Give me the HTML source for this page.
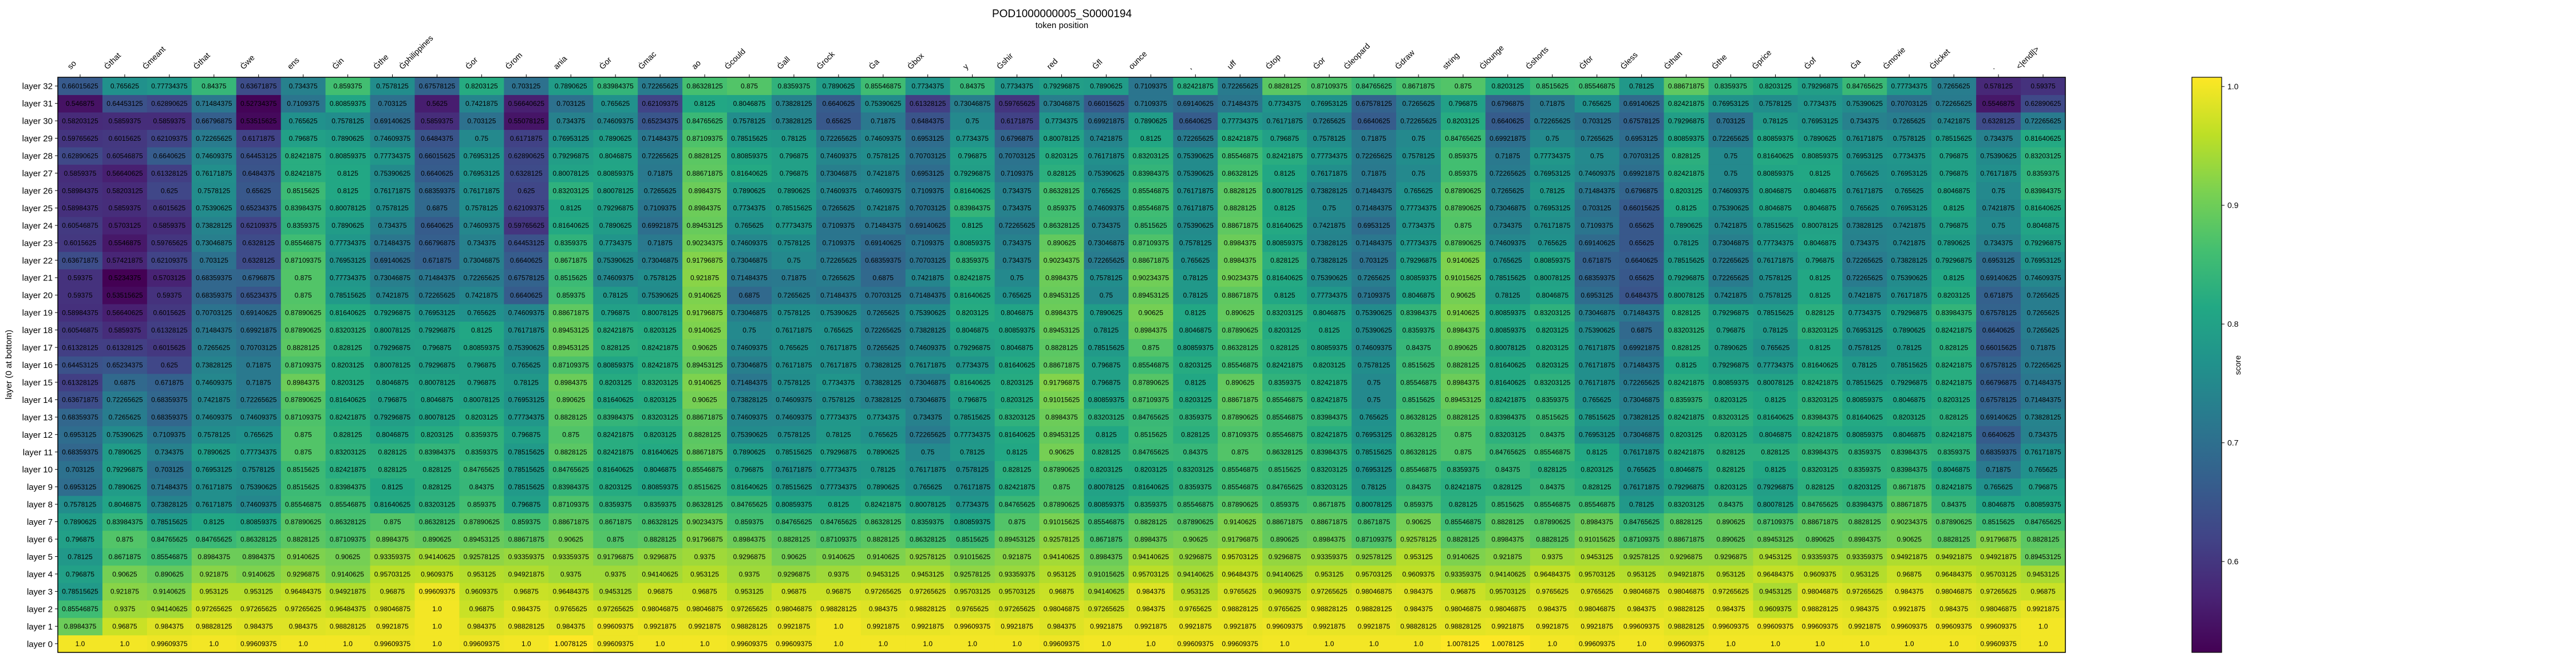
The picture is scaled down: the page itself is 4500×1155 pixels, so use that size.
<!DOCTYPE html>
<html><head><meta charset="utf-8"><title>POD1000000005_S0000194</title>
<style>
html,body{margin:0;padding:0;background:#fff;}
svg{display:block;font-family:"Liberation Sans","DejaVu Sans",sans-serif;}
</style></head>
<body>
<svg id="chart" width="4500" height="1155" viewBox="0 0 4500 1155" xmlns="http://www.w3.org/2000/svg">
<defs>
<linearGradient id="vir" x1="0" y1="1" x2="0" y2="0">
<stop offset="0" stop-color="#440154"/><stop offset="0.1" stop-color="#482475"/><stop offset="0.2" stop-color="#414487"/><stop offset="0.3" stop-color="#355f8d"/><stop offset="0.4" stop-color="#2a788e"/><stop offset="0.5" stop-color="#21918c"/><stop offset="0.6" stop-color="#22a884"/><stop offset="0.7" stop-color="#44bf70"/><stop offset="0.8" stop-color="#7ad151"/><stop offset="0.9" stop-color="#bddf26"/><stop offset="1" stop-color="#fde725"/>
</linearGradient>
</defs>
<text x="1855" y="30" font-size="19" text-anchor="middle">POD1000000005_S0000194</text>
<text x="1855" y="49" font-size="15" text-anchor="middle">token position</text>
<text transform="translate(20,637) rotate(-90)" font-size="15" text-anchor="middle">layer (0 at bottom)</text>
<g id="cells"></g>
<g id="xticks"></g>
<g id="yticks"></g>
<rect x="101" y="135" width="3507" height="1005" fill="none" stroke="#000" stroke-width="1.5"/>
<g>
<rect x="3829" y="135" width="52" height="1005" fill="url(#vir)" stroke="#000" stroke-width="1.2"/>
<g id="cbticks"></g>
<text transform="translate(3914,638) rotate(-90)" font-size="14" text-anchor="middle">score</text>
</g>
</svg>
<script>
const tokens = ["so","Ġthat","Ġmeant","Ġthat","Ġwe","ens","Ġin","Ġthe","Ġphilippines","Ġor","Ġrom","ania","Ġor","Ġmac","ao","Ġcould","Ġall","Ġrock","Ġa","Ġbox","y","Ġshir","red","Ġfl","ounce",",","uff","Ġtop","Ġor","Ġleopard","Ġdraw","string","Ġlounge","Ġshorts","Ġfor","Ġless","Ġthan","Ġthe","Ġprice","Ġof","Ġa","Ġmovie","Ġticket",".","<|endl|>"];
const cbTicks = [0.6, 0.7, 0.8, 0.9, 1.0];
const vmin = 0.5234375, vmax = 1.0078125;

const L32 = [.66015625,.765625,.77734375,.84375,.63671875,.734375,.859375,.7578125,.67578125,.8203125,.703125,.7890625,.83984375,.72265625,.86328125,.875,.8359375,.7890625,.85546875,.7734375,.84375,.7734375,.79296875,.7890625,.7109375,.82421875,.72265625,.8828125,.87109375,.84765625,.8671875,.875,.8203125,.8515625,.85546875,.78125,.88671875,.8359375,.8203125,.79296875,.84765625,.77734375,.7265625,.578125,.59375];
const L31 = [.546875,.64453125,.62890625,.71484375,.52734375,.7109375,.80859375,.703125,.5625,.7421875,.56640625,.703125,.765625,.62109375,.8125,.8046875,.73828125,.6640625,.75390625,.61328125,.73046875,.59765625,.73046875,.66015625,.7109375,.69140625,.71484375,.7734375,.76953125,.67578125,.7265625,.796875,.6796875,.71875,.765625,.69140625,.82421875,.76953125,.7578125,.7734375,.75390625,.70703125,.72265625,.5546875,.62890625];
const L30 = [.58203125,.5859375,.5859375,.66796875,.53515625,.765625,.7578125,.69140625,.5859375,.703125,.55078125,.734375,.74609375,.65234375,.84765625,.7578125,.73828125,.65625,.71875,.6484375,.75,.6171875,.7734375,.69921875,.7890625,.6640625,.77734375,.76171875,.7265625,.6640625,.72265625,.8203125,.6640625,.72265625,.703125,.67578125,.79296875,.703125,.78125,.76953125,.734375,.7265625,.7421875,.6328125,.72265625];
const L29 = [.59765625,.6015625,.62109375,.72265625,.6171875,.796875,.7890625,.74609375,.6484375,.75,.6171875,.76953125,.7890625,.71484375,.87109375,.78515625,.78125,.72265625,.74609375,.6953125,.7734375,.6796875,.80078125,.7421875,.8125,.72265625,.82421875,.796875,.7578125,.71875,.75,.84765625,.69921875,.75,.7265625,.6953125,.80859375,.72265625,.80859375,.7890625,.76171875,.7578125,.78515625,.734375,.81640625];
const L28 = [.62890625,.60546875,.6640625,.74609375,.64453125,.82421875,.80859375,.77734375,.66015625,.76953125,.62890625,.79296875,.8046875,.72265625,.8828125,.80859375,.796875,.74609375,.7578125,.70703125,.796875,.70703125,.8203125,.76171875,.83203125,.75390625,.85546875,.82421875,.77734375,.72265625,.7578125,.859375,.71875,.77734375,.75,.70703125,.828125,.75,.81640625,.80859375,.76953125,.7734375,.796875,.75390625,.83203125];
const L27 = [.5859375,.56640625,.61328125,.76171875,.6484375,.82421875,.8125,.75390625,.6640625,.76953125,.6328125,.80078125,.80859375,.71875,.88671875,.81640625,.796875,.73046875,.7421875,.6953125,.79296875,.7109375,.828125,.75390625,.83984375,.75390625,.86328125,.8125,.76171875,.71875,.75,.859375,.72265625,.76953125,.74609375,.69921875,.82421875,.75,.80859375,.8125,.765625,.76953125,.796875,.76171875,.8359375];
const L26 = [.58984375,.58203125,.625,.7578125,.65625,.8515625,.8125,.76171875,.68359375,.76171875,.625,.83203125,.80078125,.7265625,.8984375,.7890625,.7890625,.74609375,.74609375,.7109375,.81640625,.734375,.86328125,.765625,.85546875,.76171875,.8828125,.80078125,.73828125,.71484375,.765625,.87890625,.7265625,.78125,.71484375,.6796875,.8203125,.74609375,.8046875,.8046875,.76171875,.765625,.8046875,.75,.83984375];
const L25 = [.58984375,.5859375,.6015625,.75390625,.65234375,.83984375,.80078125,.7578125,.6875,.7578125,.62109375,.8125,.79296875,.7109375,.8984375,.7734375,.78515625,.7265625,.7421875,.70703125,.83984375,.734375,.859375,.74609375,.85546875,.76171875,.8828125,.8125,.75,.71484375,.77734375,.87890625,.73046875,.76953125,.703125,.66015625,.8125,.75390625,.8046875,.8046875,.765625,.76953125,.8125,.7421875,.81640625];
const L24 = [.60546875,.5703125,.5859375,.73828125,.62109375,.8359375,.7890625,.734375,.6640625,.74609375,.59765625,.81640625,.7890625,.69921875,.89453125,.765625,.77734375,.7109375,.71484375,.69140625,.8125,.72265625,.86328125,.734375,.8515625,.75390625,.88671875,.81640625,.7421875,.6953125,.7734375,.875,.734375,.76171875,.7109375,.65625,.7890625,.7421875,.78515625,.80078125,.73828125,.7421875,.796875,.75,.8046875];
const L23 = [.6015625,.5546875,.59765625,.73046875,.6328125,.85546875,.77734375,.71484375,.66796875,.734375,.64453125,.8359375,.7734375,.71875,.90234375,.74609375,.7578125,.7109375,.69140625,.7109375,.80859375,.734375,.890625,.73046875,.87109375,.7578125,.8984375,.80859375,.73828125,.71484375,.77734375,.87890625,.74609375,.765625,.69140625,.65625,.78125,.73046875,.77734375,.8046875,.734375,.7421875,.7890625,.734375,.79296875];
const L22 = [.63671875,.57421875,.62109375,.703125,.6328125,.87109375,.76953125,.69140625,.671875,.73046875,.6640625,.8671875,.75390625,.73046875,.91796875,.73046875,.75,.72265625,.68359375,.70703125,.8359375,.734375,.90234375,.72265625,.88671875,.765625,.8984375,.828125,.73828125,.703125,.79296875,.9140625,.765625,.80859375,.671875,.6640625,.78515625,.72265625,.76171875,.796875,.72265625,.73828125,.79296875,.6953125,.76953125];
const L21 = [.59375,.5234375,.5703125,.68359375,.6796875,.875,.77734375,.73046875,.71484375,.72265625,.67578125,.8515625,.74609375,.7578125,.921875,.71484375,.71875,.7265625,.6875,.7421875,.82421875,.75,.8984375,.7578125,.90234375,.78125,.90234375,.81640625,.75390625,.7265625,.80859375,.91015625,.78515625,.80078125,.68359375,.65625,.79296875,.72265625,.7578125,.8125,.72265625,.75390625,.8125,.69140625,.74609375];
const L20 = [.59375,.53515625,.59375,.68359375,.65234375,.875,.78515625,.7421875,.72265625,.7421875,.6640625,.859375,.78125,.75390625,.9140625,.6875,.7265625,.71484375,.70703125,.71484375,.81640625,.765625,.89453125,.75,.89453125,.78125,.88671875,.8125,.77734375,.7109375,.8046875,.90625,.78125,.8046875,.6953125,.6484375,.80078125,.7421875,.7578125,.8125,.7421875,.76171875,.8203125,.671875,.7265625];
const L19 = [.58984375,.56640625,.6015625,.70703125,.69140625,.87890625,.81640625,.79296875,.76953125,.765625,.74609375,.88671875,.796875,.80078125,.91796875,.73046875,.7578125,.75390625,.7265625,.75390625,.8203125,.8046875,.8984375,.7890625,.90625,.8125,.890625,.83203125,.8046875,.75390625,.83984375,.9140625,.80859375,.83203125,.73046875,.71484375,.828125,.79296875,.78515625,.828125,.7734375,.79296875,.83984375,.67578125,.7265625];
const L18 = [.60546875,.5859375,.61328125,.71484375,.69921875,.87890625,.83203125,.80078125,.79296875,.8125,.76171875,.89453125,.82421875,.8203125,.9140625,.75,.76171875,.765625,.72265625,.73828125,.8046875,.80859375,.89453125,.78125,.8984375,.8046875,.87890625,.8203125,.8125,.75390625,.8359375,.8984375,.80859375,.8203125,.75390625,.6875,.83203125,.796875,.78125,.83203125,.76953125,.7890625,.82421875,.6640625,.7265625];
const L17 = [.61328125,.61328125,.6015625,.7265625,.70703125,.8828125,.828125,.79296875,.796875,.80859375,.75390625,.89453125,.828125,.82421875,.90625,.74609375,.765625,.76171875,.7265625,.74609375,.79296875,.8046875,.8828125,.78515625,.875,.80859375,.86328125,.828125,.80859375,.74609375,.84375,.890625,.80078125,.8203125,.76171875,.69921875,.828125,.7890625,.765625,.8125,.7578125,.78125,.828125,.66015625,.71875];
const L16 = [.64453125,.65234375,.625,.73828125,.71875,.87109375,.8203125,.80078125,.79296875,.796875,.765625,.87109375,.80859375,.82421875,.89453125,.73046875,.76171875,.76171875,.73828125,.76171875,.7734375,.81640625,.88671875,.796875,.85546875,.8203125,.85546875,.82421875,.8203125,.7578125,.8515625,.8828125,.81640625,.8203125,.76171875,.71484375,.8125,.79296875,.77734375,.81640625,.78125,.78515625,.82421875,.67578125,.72265625];
const L15 = [.61328125,.6875,.671875,.74609375,.71875,.8984375,.8203125,.8046875,.80078125,.796875,.78125,.8984375,.8203125,.83203125,.9140625,.71484375,.7578125,.7734375,.73828125,.73046875,.81640625,.8203125,.91796875,.796875,.87890625,.8125,.890625,.8359375,.82421875,.75,.85546875,.8984375,.81640625,.83203125,.76171875,.72265625,.82421875,.80859375,.80078125,.82421875,.78515625,.79296875,.82421875,.66796875,.71484375];
const L14 = [.63671875,.72265625,.68359375,.7421875,.72265625,.87890625,.81640625,.796875,.8046875,.80078125,.76953125,.890625,.81640625,.8203125,.90625,.73828125,.74609375,.7578125,.73828125,.73046875,.796875,.8203125,.91015625,.80859375,.87109375,.8203125,.88671875,.85546875,.82421875,.75,.8515625,.89453125,.82421875,.8359375,.765625,.73046875,.8359375,.8203125,.8125,.83203125,.80859375,.8046875,.8203125,.67578125,.71484375];
const L13 = [.68359375,.7265625,.68359375,.74609375,.74609375,.87109375,.82421875,.79296875,.80078125,.8203125,.77734375,.8828125,.83984375,.83203125,.88671875,.74609375,.74609375,.77734375,.7734375,.734375,.78515625,.83203125,.8984375,.83203125,.84765625,.8359375,.87890625,.85546875,.83984375,.765625,.86328125,.8828125,.83984375,.8515625,.78515625,.73828125,.82421875,.83203125,.81640625,.83984375,.81640625,.8203125,.828125,.69140625,.73828125];
const L12 = [.6953125,.75390625,.7109375,.7578125,.765625,.875,.828125,.8046875,.8203125,.8359375,.796875,.875,.82421875,.8203125,.8828125,.75390625,.7578125,.78125,.765625,.72265625,.77734375,.81640625,.89453125,.8125,.8515625,.828125,.87109375,.85546875,.82421875,.76953125,.86328125,.875,.83203125,.84375,.76953125,.73046875,.8203125,.8203125,.8046875,.82421875,.80859375,.8046875,.82421875,.6640625,.734375];
const L11 = [.68359375,.7890625,.734375,.7890625,.77734375,.875,.83203125,.828125,.83984375,.8359375,.78515625,.8828125,.82421875,.81640625,.88671875,.7890625,.78515625,.79296875,.7890625,.75,.78125,.8125,.90625,.828125,.84765625,.84375,.875,.86328125,.83984375,.78515625,.86328125,.875,.84765625,.85546875,.8125,.76171875,.82421875,.828125,.828125,.83984375,.8359375,.83984375,.8359375,.68359375,.76171875];
const L10 = [.703125,.79296875,.703125,.76953125,.7578125,.8515625,.82421875,.828125,.828125,.84765625,.78515625,.84765625,.81640625,.8046875,.85546875,.796875,.76171875,.77734375,.78125,.76171875,.7578125,.828125,.87890625,.8203125,.8203125,.83203125,.85546875,.8515625,.83203125,.76953125,.85546875,.8359375,.84375,.828125,.8203125,.765625,.8046875,.828125,.8125,.83203125,.8359375,.83984375,.8046875,.71875,.765625];
const L9 = [.6953125,.7890625,.71484375,.76171875,.75390625,.8515625,.83984375,.8125,.828125,.84375,.78515625,.83984375,.8203125,.80859375,.8515625,.81640625,.78515625,.77734375,.7890625,.765625,.76171875,.82421875,.875,.80078125,.81640625,.8359375,.85546875,.84765625,.83203125,.78125,.84375,.82421875,.828125,.84375,.828125,.76171875,.79296875,.8203125,.79296875,.828125,.8203125,.8671875,.82421875,.765625,.796875];
const L8 = [.7578125,.8046875,.73828125,.76171875,.74609375,.85546875,.85546875,.81640625,.83203125,.859375,.796875,.87109375,.8359375,.8359375,.86328125,.84765625,.80859375,.8125,.82421875,.80078125,.7734375,.84765625,.87890625,.80859375,.8359375,.85546875,.87890625,.859375,.8671875,.80078125,.859375,.828125,.8515625,.85546875,.85546875,.78125,.83203125,.84375,.80078125,.84765625,.83984375,.88671875,.84375,.8046875,.80859375];
const L7 = [.7890625,.83984375,.78515625,.8125,.80859375,.87890625,.86328125,.875,.86328125,.87890625,.859375,.88671875,.8671875,.86328125,.90234375,.859375,.84765625,.84765625,.86328125,.8359375,.80859375,.875,.91015625,.85546875,.8828125,.87890625,.9140625,.88671875,.88671875,.8671875,.90625,.85546875,.8828125,.87890625,.8984375,.84765625,.8828125,.890625,.87109375,.88671875,.8828125,.90234375,.87890625,.8515625,.84765625];
const L6 = [.796875,.875,.84765625,.84765625,.86328125,.8828125,.87109375,.8984375,.890625,.89453125,.88671875,.90625,.875,.8828125,.91796875,.8984375,.8828125,.87109375,.8828125,.86328125,.8515625,.89453125,.92578125,.8671875,.8984375,.90625,.91796875,.890625,.8984375,.87109375,.92578125,.8828125,.8984375,.8828125,.91015625,.87109375,.88671875,.890625,.89453125,.890625,.8984375,.90625,.8828125,.91796875,.8828125];
const L5 = [.78125,.8671875,.85546875,.8984375,.8984375,.9140625,.90625,.93359375,.94140625,.92578125,.93359375,.93359375,.91796875,.9296875,.9375,.9296875,.90625,.9140625,.9140625,.92578125,.91015625,.921875,.94140625,.8984375,.94140625,.9296875,.95703125,.9296875,.93359375,.92578125,.953125,.9140625,.921875,.9375,.9453125,.92578125,.9296875,.9296875,.9453125,.93359375,.93359375,.94921875,.94921875,.94921875,.89453125];
const L4 = [.796875,.90625,.890625,.921875,.9140625,.9296875,.9140625,.95703125,.9609375,.953125,.94921875,.9375,.9375,.94140625,.953125,.9375,.9296875,.9375,.9453125,.9453125,.92578125,.93359375,.953125,.91015625,.95703125,.94140625,.96484375,.94140625,.953125,.95703125,.9609375,.93359375,.94140625,.96484375,.95703125,.953125,.94921875,.953125,.96484375,.9609375,.953125,.96875,.96484375,.95703125,.9453125];
const L3 = [.78515625,.921875,.9140625,.953125,.953125,.96484375,.94921875,.96875,.99609375,.9609375,.96875,.96484375,.9453125,.96875,.96875,.953125,.96875,.96875,.97265625,.97265625,.95703125,.95703125,.96875,.94140625,.984375,.953125,.9765625,.9609375,.97265625,.98046875,.984375,.96875,.95703125,.9765625,.9765625,.98046875,.98046875,.97265625,.9453125,.98046875,.97265625,.984375,.98046875,.97265625,.96875];
const L2 = [.85546875,.9375,.94140625,.97265625,.97265625,.97265625,.96484375,.98046875,1.0,.96875,.984375,.9765625,.97265625,.98046875,.98046875,.97265625,.98046875,.98828125,.984375,.98828125,.9765625,.97265625,.98046875,.97265625,.984375,.9765625,.98828125,.9765625,.98828125,.98828125,.984375,.98046875,.98046875,.984375,.98046875,.984375,.98828125,.984375,.9609375,.98828125,.984375,.9921875,.984375,.98046875,.9921875];
const L1 = [.8984375,.96875,.984375,.98828125,.984375,.984375,.98828125,.9921875,1.0,.984375,.98828125,.984375,.99609375,.9921875,.9921875,.98828125,.9921875,1.0,.9921875,.9921875,.99609375,.9921875,.984375,.9921875,.9921875,.9921875,.9921875,.99609375,.9921875,.9921875,.98828125,.98828125,.9921875,.9921875,.9921875,.99609375,.98828125,.99609375,.99609375,.99609375,.9921875,.99609375,.99609375,.99609375,1.0];
const L0 = [1.0,1.0,.99609375,1.0,.99609375,1.0,1.0,.99609375,1.0,.99609375,1.0,1.0078125,.99609375,1.0,1.0,.99609375,.99609375,1.0,1.0,1.0,1.0,1.0,.99609375,1.0,1.0,.99609375,.99609375,1.0,1.0,1.0,1.0,1.0078125,1.0078125,1.0,.99609375,1.0,.99609375,1.0,1.0,1.0,1.0,1.0,1.0,.99609375,1.0];
const layers = [L0,L1,L2,L3,L4,L5,L6,L7,L8,L9,L10,L11,L12,L13,L14,L15,L16,L17,L18,L19,L20,L21,L22,L23,L24,L25,L26,L27,L28,L29,L30,L31,L32];

const NS = "http://www.w3.org/2000/svg";
const X0 = 101, X1 = 3608, Y0 = 135, Y1 = 1140;
const nCols = tokens.length, nRows = layers.length;
const cw = (X1 - X0) / nCols, rh = (Y1 - Y0) / nRows;
function xPos(c) { return X0 + c * cw; }
function yPos(layer) { return Y0 + (nRows - 1 - layer) * rh; }
function cbY(v) { return Y0 + (vmax - v) / (vmax - vmin) * (Y1 - Y0); }

const stops = ["#440154","#482475","#414487","#355f8d","#2a788e","#21918c","#22a884","#44bf70","#7ad151","#bddf26","#fde725"];
function hex(h) { return [parseInt(h.substr(1,2),16), parseInt(h.substr(3,2),16), parseInt(h.substr(5,2),16)]; }
function viridis(v) {
  let t = (v - vmin) / (vmax - vmin);
  t = Math.max(0, Math.min(1, t));
  const p = t * (stops.length - 1), i = Math.min(Math.floor(p), stops.length - 2), f = p - i;
  const a = hex(stops[i]), b = hex(stops[i+1]);
  return "rgb(" + a.map((x, k) => Math.round(x + (b[k] - x) * f)).join(",") + ")";
}
function fmt(v) { return Number.isInteger(v) ? v.toFixed(1) : String(v); }
function mk(tag, attrs, parent) {
  const e = document.createElementNS(NS, tag);
  for (const k in attrs) e.setAttribute(k, attrs[k]);
  parent.appendChild(e);
  return e;
}

const gCells = document.getElementById("cells");
for (let l = 0; l < nRows; l++) {
  const row = layers[l];
  for (let c = 0; c < nCols; c++) {
    const v = row[c];
    const r = mk("rect", {x: xPos(c), y: yPos(l), width: cw + 0.6, height: rh + 0.6, fill: viridis(v)}, gCells);
    
    
    const t = mk("text", {x: xPos(c) + cw / 2, y: yPos(l) + rh / 2 + 4.3, "font-size": 12, "text-anchor": "middle", fill: "#000"}, gCells);
    
    
    t.textContent = fmt(v);
  }
}

const gx = document.getElementById("xticks");
tokens.forEach((tok, c) => {
  const cx = xPos(c) + cw / 2;
  const tk = mk("line", {x1: cx, x2: cx, y1: Y0 - 5, y2: Y0, stroke: "#000", "stroke-width": 1}, gx);
  
  
  const t = mk("text", {transform: "translate(" + cx + "," + (Y0 - 13) + ") rotate(-45)", "font-size": 14, "text-anchor": "start", fill: "#000"}, gx);
  
  
  t.textContent = tok;
  const len = t.getComputedTextLength();
  t.setAttribute("transform", "translate(" + (cx - 6 - len * 0.7071) + "," + (Y0 - 13) + ") rotate(-45)");
});

const gy = document.getElementById("yticks");
for (let l = 0; l < nRows; l++) {
  const cy = yPos(l) + rh / 2;
  const tk = mk("line", {x1: X0 - 5, x2: X0, y1: cy, y2: cy, stroke: "#000", "stroke-width": 1}, gy);
  
  
  const t = mk("text", {x: X0 - 9, y: cy + 5.5, "font-size": 15, "text-anchor": "end", fill: "#000"}, gy);
  
  
  t.textContent = "layer " + l;
}

const gcb = document.getElementById("cbticks");
cbTicks.forEach(v => {
  const y = cbY(v);
  const tk = mk("line", {x1: 3881, x2: 3886, y1: y, y2: y, stroke: "#000", "stroke-width": 1}, gcb);
  
  
  const t = mk("text", {x: 3891, y: y + 5, "font-size": 14, fill: "#000"}, gcb);
  
  
  t.textContent = v.toFixed(1);
});
</script>
</body></html>
